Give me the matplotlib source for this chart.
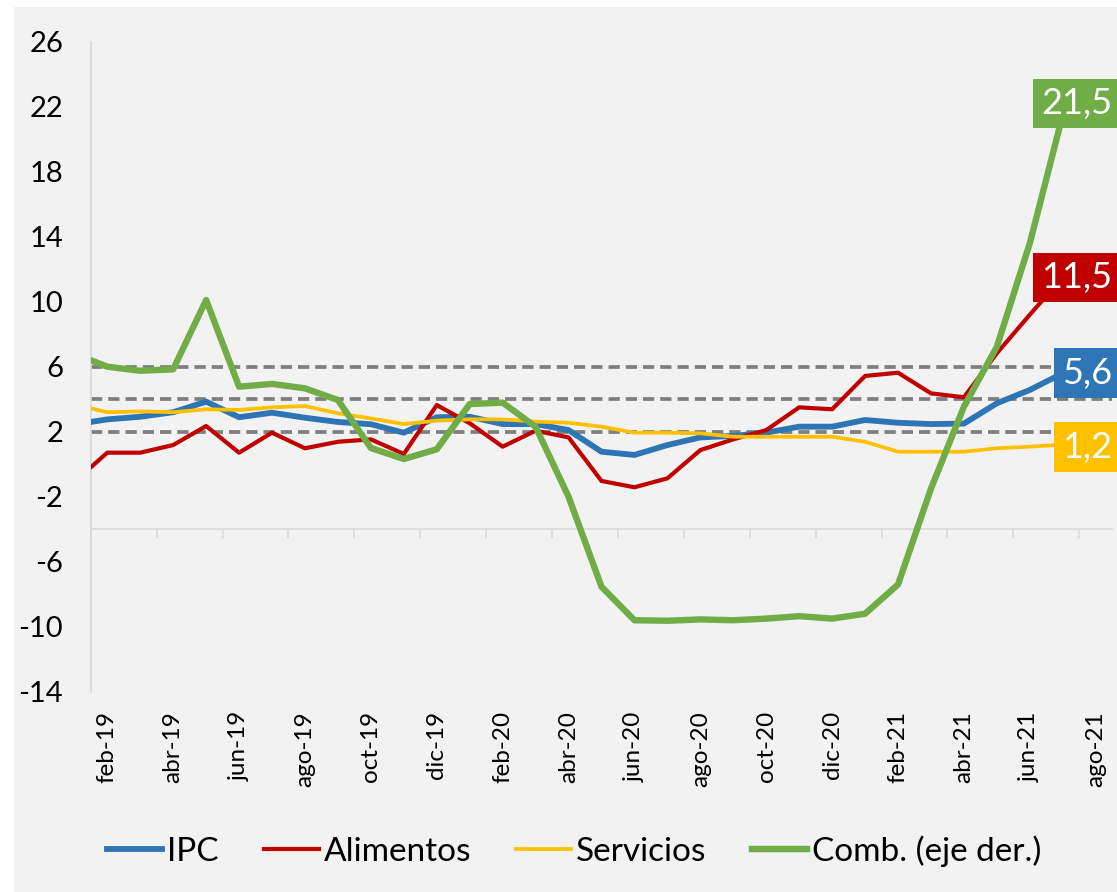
import numpy as np
import matplotlib
matplotlib.use('Agg')
import matplotlib.pyplot as plt
from matplotlib.patches import Rectangle
from matplotlib.transforms import blended_transform_factory

plt.rcParams['font.family'] = ['Lato', 'DejaVu Sans']
plt.rcParams['axes.unicode_minus'] = False

# meses: ene-19 queda fuera del eje (solo se ve el tramo que entra)
meses = ['ene-19', 'feb-19', 'mar-19', 'abr-19', 'may-19', 'jun-19', 'jul-19',
         'ago-19', 'sep-19', 'oct-19', 'nov-19', 'dic-19', 'ene-20', 'feb-20',
         'mar-20', 'abr-20', 'may-20', 'jun-20', 'jul-20', 'ago-20', 'sep-20',
         'oct-20', 'nov-20', 'dic-20', 'ene-21', 'feb-21', 'mar-21', 'abr-21',
         'may-21', 'jun-21', 'jul-21', 'ago-21']

ipc = [2.44, 2.76, 2.92, 3.2, 3.85, 2.89, 3.17, 2.86, 2.6, 2.46, 1.94,
       2.89, 2.92, 2.47, 2.47, 2.1, 0.77, 0.57, 1.18, 1.65, 1.74, 1.94,
       2.31, 2.31, 2.72, 2.55, 2.47, 2.5, 3.75, 4.57, 5.6]
alimentos = [-1.09, 0.71, 0.71, 1.18, 2.35, 0.71, 1.94, 0.98, 1.38, 1.53, 0.63,
             3.64, 2.52, 1.08, 2.06, 1.65, -1.03, -1.42, -0.87, 0.87, 1.53, 2.1,
             3.5, 3.38, 5.43, 5.63, 4.36, 4.12, 6.83, 9.2, 11.5]
servicios = [3.68, 3.2, 3.25, 3.2, 3.38, 3.34, 3.5, 3.58, 3.13, 2.82, 2.47,
             2.68, 2.76, 2.76, 2.62, 2.55, 2.31, 1.94, 1.94, 1.9, 1.69, 1.69,
             1.69, 1.69, 1.38, 0.77, 0.77, 0.77, 0.98, 1.08, 1.2]
combustibles = [6.8, 6.0, 5.75, 5.84, 10.1, 4.77, 4.94, 4.67, 3.95, 1.0, 0.32,
                0.92, 3.7, 3.79, 2.3, -2.0, -7.54, -9.6, -9.63, -9.55, -9.6, -9.5,
                -9.35, -9.5, -9.2, -7.4, -1.5, 3.54, 7.23, 13.6, 21.5]

bandas = [2, 4, 6]
etiquetas_ult = ['5,6', '11,5', '1,2', '21,5']

series = [
    ('IPC', ipc, '#2E75B6', 4.2),
    ('Alimentos', alimentos, '#C00000', 3.0),
    ('Servicios', servicios, '#FFC000', 2.7),
    ('Comb. (eje der.)', combustibles, '#70AD47', 4.6),
]

fig = plt.figure(figsize=(11.17, 8.92), dpi=100)
fig.patch.set_facecolor('white')
fig.patches.append(Rectangle((14 / 1117, 0), 1, 1 - 7 / 892, transform=fig.transFigure,
                             facecolor='#F2F2F2', edgecolor='none', zorder=-10))

ax = fig.add_axes([0.0813, 0.2245, 0.9144, 0.7288])
ax.set_facecolor('none')

x = np.arange(len(ipc)) - 0.5   # centro de cada mes, ene-19 en -0.5

for y in bandas:
    ax.axhline(y, color='#7F7F7F', lw=2.7, ls=(0, (3.0, 1.6)), zorder=1)

handles = []
for nombre, vals, col, lw in series:
    h, = ax.plot(x, vals, color=col, lw=lw, label=nombre, zorder=3)
    handles.append(h)

ax.set_xlim(0, len(meses) - 1)
ax.set_ylim(-14, 26)
ax.set_yticks(np.arange(-14, 27, 4))
ax.tick_params(axis='y', length=0, labelsize=21, pad=20)

centros = np.arange(0, len(meses) - 1, 2) + 0.5
ax.set_xticks(centros)
ax.set_xticklabels(meses[1::2], rotation=90)
ax.tick_params(axis='x', length=0, labelsize=17.5, pad=14)

for s in ['top', 'right', 'bottom']:
    ax.spines[s].set_visible(False)
ax.spines['left'].set_color('#D9D9D9')
ax.spines['left'].set_linewidth(1.2)

# eje horizontal cruzando en -4
sec = ax.secondary_xaxis(0.25)
sec.set_xticks(np.arange(0, len(meses) - 1, 2))
sec.tick_params(axis='x', length=6.5, width=1.2, color='#D9D9D9', labelbottom=False)
sec.spines['bottom'].set_color('#D9D9D9')
sec.spines['bottom'].set_linewidth(1.2)

# etiquetas del ultimo dato
tr = blended_transform_factory(ax.transAxes, ax.transData)
ajuste = [0, 0, -0.15, 0.7]
for (nombre, vals, col, lw), txt, dy in zip(series, etiquetas_ult, ajuste):
    ax.text(1.0, vals[-1] + dy, txt, transform=tr, ha='right', va='center',
            fontsize=26, color='white', zorder=5, clip_on=False,
            bbox=dict(facecolor=col, edgecolor='none', pad=6))

fig.legend(handles=handles, loc='center', bbox_to_anchor=(0.514, 0.046), ncol=4,
           frameon=False, fontsize=24, handlelength=1.65, handletextpad=0.15,
           columnspacing=1.35)

fig.savefig('out.png', dpi=100, facecolor=fig.get_facecolor())
